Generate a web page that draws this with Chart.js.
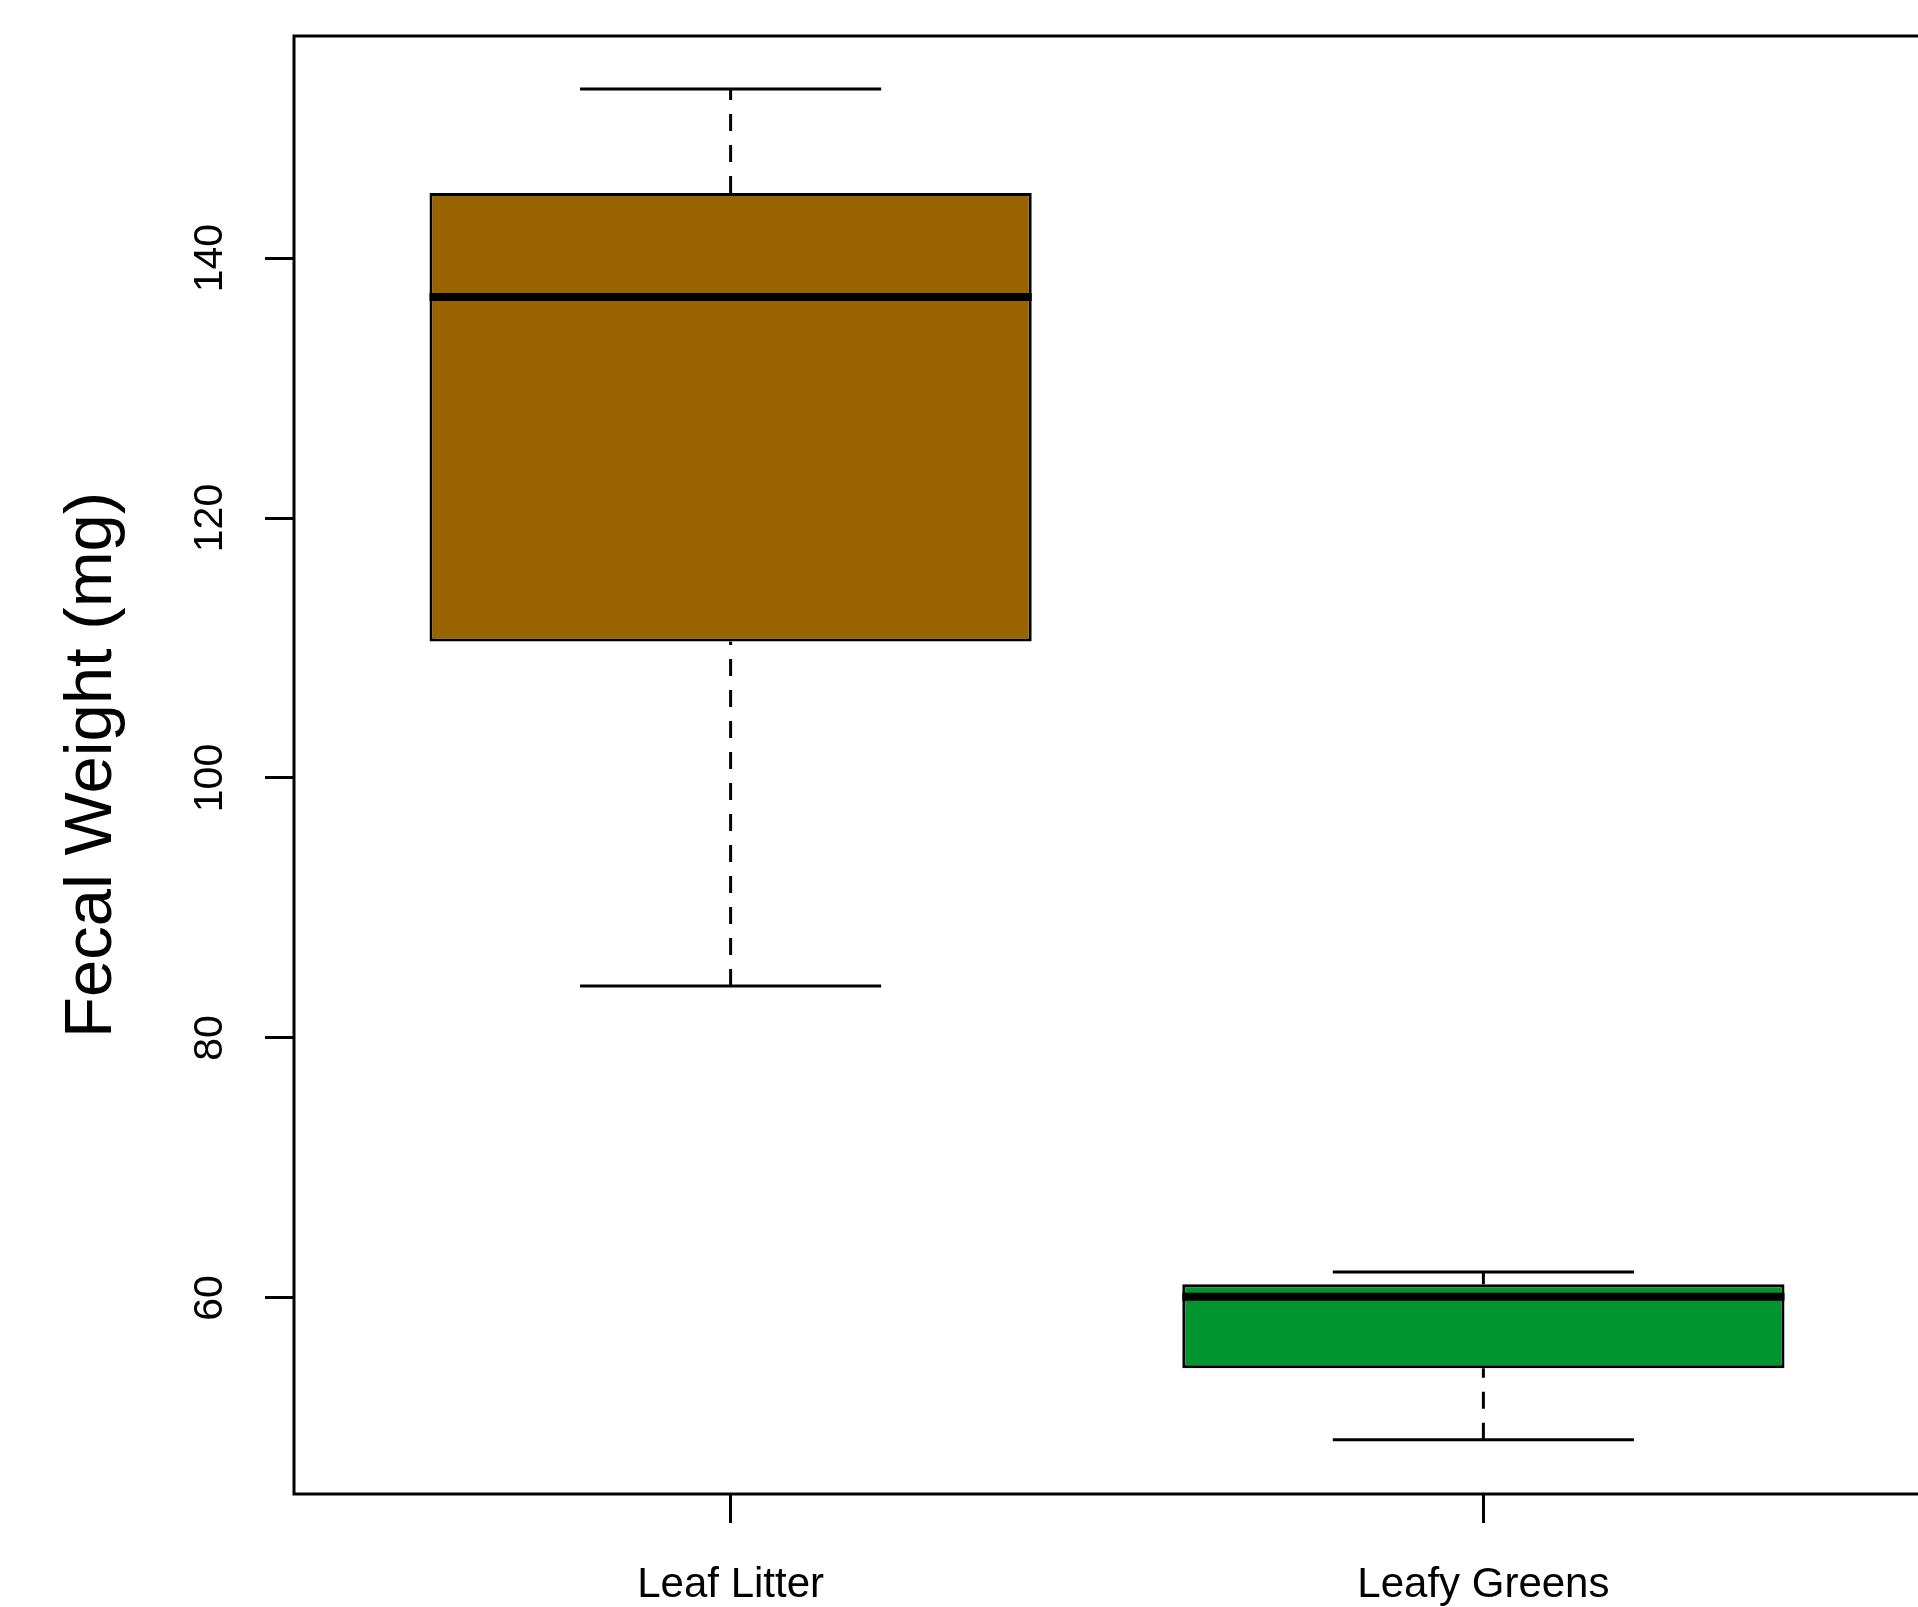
<!DOCTYPE html>
<html lang="en">
<head>
    <meta charset="UTF-8">
    <title>Fecal Weight</title>
    <script src="https://cdn.jsdelivr.net/npm/chart.js@4.4.1/dist/chart.umd.min.js"></script>
    <style>
        html, body { margin: 0; padding: 0; background: #fff; overflow: hidden; }
    </style>
</head>
<body>
    <canvas id="box" width="1922" height="1607"></canvas>

    <script>
        // box plot stats
        const groups = ['Leaf Litter', 'Leafy Greens'];
        const lowWhisker = [84.0, 49.1];
        const q1 = [110.5, 54.6];
        const median = [137.0, 60.1];
        const q3 = [145.0, 61.05];
        const highWhisker = [153.0, 62.0];
        const fills = ['#996300', '#00952f'];
        const yTicks = [60, 80, 100, 120, 140];

        const boxHalf = 0.4;
        const capHalf = 0.2;
        const font = 'Liberation Sans, Arial, sans-serif';

        // positions on the x axis are 1, 2, ...
        const pos = groups.map((g, i) => i + 1);

        const lineSet = (pts, width, dash) => ({
            type: 'line',
            data: pts,
            borderColor: '#000',
            borderWidth: width,
            borderDash: dash || [],
            pointRadius: 0,
            fill: false,
            spanGaps: false,
            order: 1
        });

        const whiskerPts = [];
        const capPts = [];
        const medPts = [];
        pos.forEach((x, i) => {
            whiskerPts.push({x: x, y: q3[i]}, {x: x, y: highWhisker[i]}, {x: x, y: null});
            whiskerPts.push({x: x, y: lowWhisker[i]}, {x: x, y: q1[i]}, {x: x, y: null});
            capPts.push({x: x - capHalf, y: highWhisker[i]}, {x: x + capHalf, y: highWhisker[i]}, {x: x, y: null});
            capPts.push({x: x - capHalf, y: lowWhisker[i]}, {x: x + capHalf, y: lowWhisker[i]}, {x: x, y: null});
            medPts.push({x: x - boxHalf, y: median[i]}, {x: x + boxHalf, y: median[i]}, {x: x, y: null});
        });

        const frame = {
            id: 'frame',
            afterDraw(chart) {
                const a = chart.chartArea;
                const c = chart.ctx;
                c.save();
                c.strokeStyle = '#000';
                c.lineWidth = 3;
                c.strokeRect(a.left, a.top, a.right - a.left, a.bottom - a.top);
                c.restore();
            }
        };

        new Chart(document.getElementById('box'), {
            type: 'bar',
            data: {
                datasets: [
                    {
                        data: pos.map((x, i) => ({x: x, y: [q1[i], q3[i]]})),
                        backgroundColor: fills,
                        borderColor: '#000',
                        borderWidth: 3,
                        borderSkipped: false,
                        barPercentage: boxHalf * 2,
                        categoryPercentage: 1,
                        order: 3
                    },
                    Object.assign(lineSet(whiskerPts, 3, [17, 14]), {order: 2}),
                    lineSet(capPts, 3),
                    lineSet(medPts, 8)
                ]
            },
            plugins: [frame],
            options: {
                responsive: false,
                animation: false,
                layout: { padding: { top: 36, left: 0, right: 2, bottom: 0 } },
                plugins: {
                    legend: { display: false },
                    tooltip: { enabled: false }
                },
                scales: {
                    x: {
                        type: 'linear',
                        offset: false,
                        min: 0.42,
                        max: 2.58,
                        afterBuildTicks: s => { s.ticks = pos.map(v => ({value: v})); },
                        afterFit: s => { s.height = 113; s.paddingLeft = 0; s.paddingRight = 0; },
                        ticks: {
                            callback: v => groups[v - 1],
                            color: '#000',
                            padding: 37,
                            maxRotation: 0,
                            font: { family: font, size: 42 }
                        },
                        grid: {
                            display: true,
                            offset: false,
                            drawOnChartArea: false,
                            drawTicks: true,
                            tickLength: 29,
                            tickWidth: 3,
                            tickColor: '#000'
                        },
                        border: { display: false }
                    },
                    y: {
                        min: 44.92,
                        max: 157.08,
                        afterBuildTicks: s => { s.ticks = yTicks.map(v => ({value: v})); },
                        afterFit: s => { s.width = 294; s.paddingTop = 0; s.paddingBottom = 0; },
                        ticks: {
                            color: '#000',
                            padding: 20,
                            minRotation: 90,
                            maxRotation: 90,
                            crossAlign: 'center',
                            font: { family: font, size: 41 }
                        },
                        grid: {
                            display: true,
                            drawOnChartArea: false,
                            drawTicks: true,
                            tickLength: 29,
                            tickWidth: 3,
                            tickColor: '#000'
                        },
                        border: { display: false },
                        title: {
                            display: true,
                            text: 'Fecal Weight (mg)',
                            color: '#000',
                            padding: { top: 52, bottom: 0 },
                            font: { family: font, size: 67 }
                        }
                    }
                }
            }
        });
    </script>
</body>
</html>
